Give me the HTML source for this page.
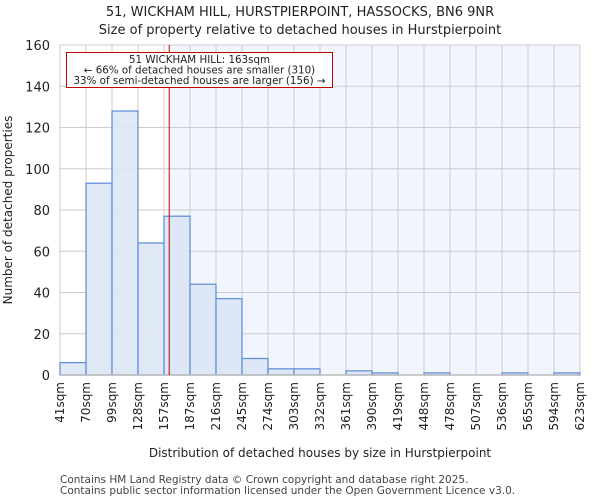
<!DOCTYPE html>
<html><head><meta charset="utf-8"><style>
body{margin:0;background:#fff;font-family:"DejaVu Sans","Liberation Sans",sans-serif;}
</style></head><body>
<svg id="chart" width="600" height="500" xmlns="http://www.w3.org/2000/svg" font-family="DejaVu Sans, Liberation Sans, sans-serif">
<text x="300" y="16" text-anchor="middle" font-size="13" fill="#222">51, WICKHAM HILL, HURSTPIERPOINT, HASSOCKS, BN6 9NR</text>
<text x="300" y="34" text-anchor="middle" font-size="13" fill="#222">Size of property relative to detached houses in Hurstpierpoint</text>
<g id="plot"></g>
<text x="12" y="210" transform="rotate(-90 12 210)" text-anchor="middle" font-size="12" fill="#222">Number of detached properties</text>
<text x="320" y="457" text-anchor="middle" font-size="12" fill="#222">Distribution of detached houses by size in Hurstpierpoint</text>
<text x="60" y="483" font-size="10.5" fill="#444">Contains HM Land Registry data © Crown copyright and database right 2025.</text>
<text x="60" y="494" font-size="10.5" fill="#444">Contains public sector information licensed under the Open Government Licence v3.0.</text>
</svg>
<script>
const binLabels=["41sqm","70sqm","99sqm","128sqm","157sqm","187sqm","216sqm","245sqm","274sqm","303sqm","332sqm","361sqm","390sqm","419sqm","448sqm","478sqm","507sqm","536sqm","565sqm","594sqm","623sqm"];
const binEdges=[41,70,99,128,157,187,216,245,274,303,332,361,390,419,448,478,507,536,565,594,623];
const counts=[6,93,128,64,77,44,37,8,3,3,0,2,1,0,1,0,0,1,0,1];
const yTicks=[0,20,40,60,80,100,120,140,160];
const propertySize=163;
const NS="http://www.w3.org/2000/svg";
const L=60,R=580,T=45,B=375,yMax=160;
const xIdx=i=>L+(R-L)*i/counts.length;
function xVal(v){for(let i=0;i<binEdges.length-1;i++){if(v<=binEdges[i+1])return xIdx(i)+(v-binEdges[i])/(binEdges[i+1]-binEdges[i])*(xIdx(i+1)-xIdx(i));}return R;}
const y=v=>B-(B-T)*v/yMax;
const g=document.getElementById('plot');
function mk(t,a){const e=document.createElementNS(NS,t);for(const k in a)e.setAttribute(k,a[k]);g.appendChild(e);return e;}
const px=xVal(propertySize);
let e=mk('rect',{x:px,y:T,width:R-px,height:B-T,fill:'#f1f5fd'});


for(let i=0;i<binLabels.length;i++){
 e=mk('line',{x1:xIdx(i),x2:xIdx(i),y1:T,y2:B,stroke:'#cccccc','stroke-width':1});
 
 
}
yTicks.forEach(t=>{
 e=mk('line',{x1:L,x2:R,y1:y(t),y2:y(t),stroke:'#cccccc','stroke-width':1});
 
 
 e=mk('text',{x:L-10,y:y(t)+5,'text-anchor':'end','font-size':13,fill:'#222'});
 e.textContent=t;
 
 
});
counts.forEach((c,i)=>{
 if(c<=0)return;
 e=mk('rect',{x:xIdx(i),y:y(c),width:xIdx(i+1)-xIdx(i),height:B-y(c),fill:'#dbe5f4',stroke:'#5a8bd6','stroke-width':1.2,'fill-opacity':0.9});
 
 
});
binLabels.forEach((lab,i)=>{
 const xx=xIdx(i)+4;
 e=mk('text',{x:xx,y:382,transform:`rotate(-90 ${xx} 382)`,'text-anchor':'end','font-size':12,fill:'#222'});
 e.textContent=lab;
 
 
});
e=mk('line',{x1:L,x2:R,y1:B,y2:B,stroke:'#bbb','stroke-width':1.5});


e=mk('line',{x1:px,x2:px,y1:T,y2:B,stroke:'#c00000','stroke-width':1});


e=mk('rect',{x:66.5,y:52.5,width:266,height:35,fill:'#fff',stroke:'#c00000','stroke-width':1});


["51 WICKHAM HILL: 163sqm","← 66% of detached houses are smaller (310)","33% of semi-detached houses are larger (156) →"].forEach((s,k)=>{
 e=mk('text',{x:199.5,y:63+k*10.5,'text-anchor':'middle','font-size':10.3,fill:'#222'});
 e.textContent=s;
 
 
});
</script>
</body></html>
